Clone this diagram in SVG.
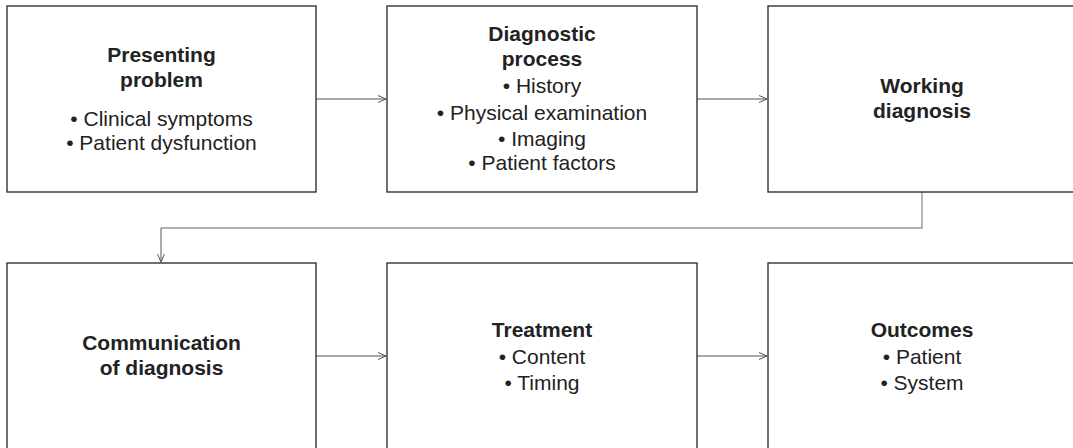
<svg xmlns="http://www.w3.org/2000/svg" width="1073" height="448" viewBox="0 0 1073 448">
<style>
.box{fill:#fff;stroke:#333;stroke-width:1.4}
.t{font-family:"Liberation Sans",Arial,sans-serif;font-size:21px;fill:#222;text-anchor:middle}
.b{font-weight:bold}
.c{fill:none;stroke:#555;stroke-width:1}
.e{fill:none;stroke:#999;stroke-width:1.4}
</style>
<defs>
<marker id="ah" markerWidth="10" markerHeight="8" refX="9" refY="4" orient="auto" markerUnits="userSpaceOnUse">
<path d="M1,0.5 L9,4 L1,7.5" fill="none" stroke="#555" stroke-width="1"/>
</marker>
</defs>
<rect width="1073" height="448" fill="#fff"/>
<g id="connectors">
<line class="c" x1="316" y1="99" x2="386" y2="99" marker-end="url(#ah)"/>
<line class="c" x1="697" y1="99" x2="767" y2="99" marker-end="url(#ah)"/>
<polyline class="e" points="922,192 922,228 161,228"/>
<line class="c" x1="161" y1="228" x2="161" y2="262" marker-end="url(#ah)"/>
<line class="c" x1="316" y1="356" x2="386" y2="356" marker-end="url(#ah)"/>
<line class="c" x1="697" y1="356" x2="767" y2="356" marker-end="url(#ah)"/>
</g>
<g id="presenting">
<rect class="box" x="7" y="6" width="309" height="186"/>
<text class="t b" x="161.5" y="62">Presenting</text>
<text class="t b" x="161.5" y="87">problem</text>
<text class="t" x="161.5" y="126">• Clinical symptoms</text>
<text class="t" x="161.5" y="150">• Patient dysfunction</text>
</g>
<g id="diagnostic">
<rect class="box" x="387" y="6" width="310" height="186"/>
<text class="t b" x="542" y="41">Diagnostic</text>
<text class="t b" x="542" y="66">process</text>
<text class="t" x="542" y="93">• History</text>
<text class="t" x="542" y="119.5">• Physical examination</text>
<text class="t" x="542" y="146">• Imaging</text>
<text class="t" x="542" y="170">• Patient factors</text>
</g>
<g id="working">
<rect class="box" x="768" y="6" width="310" height="186"/>
<text class="t b" x="922" y="93">Working</text>
<text class="t b" x="922" y="118">diagnosis</text>
</g>
<g id="communication">
<rect class="box" x="7" y="263" width="309" height="190"/>
<text class="t b" x="161.5" y="350">Communication</text>
<text class="t b" x="161.5" y="375">of diagnosis</text>
</g>
<g id="treatment">
<rect class="box" x="387" y="263" width="310" height="190"/>
<text class="t b" x="542" y="337">Treatment</text>
<text class="t" x="542" y="364">• Content</text>
<text class="t" x="542" y="390">• Timing</text>
</g>
<g id="outcomes">
<rect class="box" x="768" y="263" width="310" height="190"/>
<text class="t b" x="922" y="337">Outcomes</text>
<text class="t" x="922" y="364">• Patient</text>
<text class="t" x="922" y="390">• System</text>
</g>
</svg>
